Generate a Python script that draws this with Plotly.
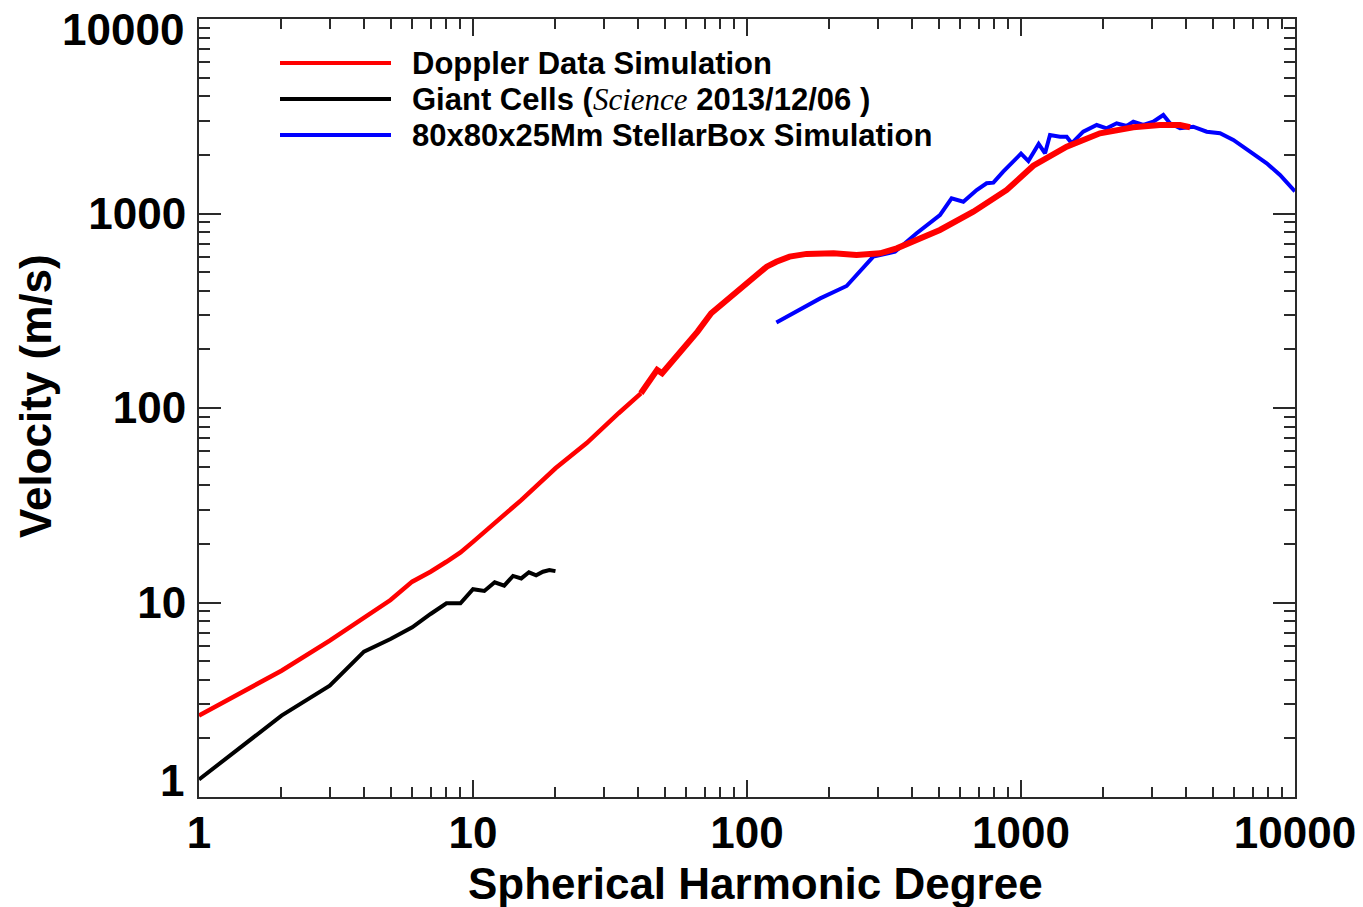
import plotly.graph_objects as go

# Doppler data simulation spectrum (spherical harmonic degree l, velocity m/s)
red_l = [1, 2, 3, 4, 5, 6, 7, 8, 9, 10, 15, 20, 26, 34, 41, 47, 49, 54, 59, 66,
         74, 87, 100, 118, 128, 143, 165, 207, 251, 306, 352, 416, 506, 670, 887,
         1109, 1468, 1942, 2570, 3215, 3804, 4140]
red_v = [2.62, 4.46, 6.36, 8.29, 10.3, 12.8, 14.4, 16.2, 18.1, 20.5, 33.6, 49, 66,
         94, 119, 157, 151, 177, 207, 247, 307, 373, 446, 533, 565, 600, 620, 624,
         612, 624, 662, 731, 823, 1021, 1321, 1760, 2206, 2584, 2775, 2851, 2851,
         2775]

# Giant cells measurement
black_l = list(range(1, 21))
black_v = [1.23, 2.62, 3.74, 5.59, 6.49, 7.46, 8.73, 9.9, 9.9, 11.7, 11.46, 12.7,
           12.2, 13.7, 13.3, 14.3, 13.8, 14.4, 14.7, 14.5]

# StellarBox simulation spectrum
blue_l = [128, 185, 231, 289, 347, 416, 506, 558, 616, 689, 749, 793, 861, 1000,
          1064, 1160, 1224, 1276, 1388, 1468, 1531, 1687, 1889, 2054, 2234, 2430,
          2570, 2795, 3039, 3306, 3497, 3804, 4252, 4762, 5325, 5955, 6855, 7884,
          8815, 10000]
blue_v = [275, 366, 424, 600, 636, 791, 982, 1197, 1150, 1321, 1430, 1440, 1640,
          2030, 1860, 2280, 2039, 2533, 2483, 2483, 2296, 2634, 2851, 2742, 2910,
          2818, 2966, 2851, 2966, 3208, 2910, 2742, 2795, 2634, 2584, 2388, 2079,
          1812, 1577, 1300]

legend_names = [
    "Doppler Data Simulation",
    "Giant Cells (<span style=\"font-family:'Liberation Serif';font-weight:normal\"><i>Science</i></span> 2013/12/06 )",
    "80x80x25Mm StellarBox Simulation",
]
legend_colors = ["#ff0000", "#000000", "#0000ff"]

x_major = [1, 10, 100, 1000, 10000]
y_major = [1, 10, 100, 1000, 10000]
x_minor = [m * 10 ** d for d in range(4) for m in range(2, 10)]
y_minor = [m * 10 ** d for d in range(4) for m in range(2, 10)]

FONT = "Liberation Sans, Arial, Helvetica, sans-serif"
AXIS_COLOR = "#2a2a2a"

# the low-degree part of the Doppler curve is smooth, the rest is noisy (drawn thicker)
SPLIT = red_l.index(41)

fig = go.Figure()
fig.add_trace(go.Scatter(x=blue_l, y=blue_v, mode="lines",
                         line=dict(color=legend_colors[2], width=4), showlegend=False))
fig.add_trace(go.Scatter(x=black_l, y=black_v, mode="lines",
                         line=dict(color=legend_colors[1], width=4), showlegend=False))
fig.add_trace(go.Scatter(x=red_l[:SPLIT + 1], y=red_v[:SPLIT + 1], mode="lines",
                         line=dict(color=legend_colors[0], width=4.5), showlegend=False))
fig.add_trace(go.Scatter(x=red_l[SPLIT:], y=red_v[SPLIT:], mode="lines",
                         line=dict(color=legend_colors[0], width=6), showlegend=False))

# hand-drawn legend: long line samples with bold labels
L, R, T, B = 199, 68, 19, 110
W, H = 1363, 907
pw, ph = W - L - R, H - T - B


def px_x(p):
    return (p - L) / pw


def px_y(p):
    return (H - B - p) / ph


shapes = []
annotations = []
for i, (name, col) in enumerate(zip(legend_names, legend_colors)):
    yc = 63 + 36 * i
    shapes.append(dict(type="line", xref="paper", yref="paper",
                       x0=px_x(280), x1=px_x(391), y0=px_y(yc), y1=px_y(yc),
                       line=dict(color=col, width=4)))
    annotations.append(dict(xref="paper", yref="paper", x=px_x(410), y=px_y(yc),
                            xanchor="left", yanchor="middle", showarrow=False,
                            text=name,
                            font=dict(family=FONT, size=31, color="black", weight="bold")))

tickfont = dict(family=FONT, size=44, color="black", weight="bold")

# end labels of the velocity axis sit just inside the frame
for val, yc in (("10000", 30), ("1", 780)):
    annotations.append(dict(xref="paper", yref="paper", x=px_x(186), y=px_y(yc),
                            xanchor="right", yanchor="middle", showarrow=False,
                            text=val, font=tickfont))

# axis titles
annotations.append(dict(xref="paper", yref="paper", x=px_x(755), y=px_y(883),
                        xanchor="center", yanchor="middle", showarrow=False,
                        text="Spherical Harmonic Degree",
                        font=dict(family=FONT, size=44, color="black", weight="bold")))
annotations.append(dict(xref="paper", yref="paper", x=px_x(36), y=px_y(396),
                        xanchor="center", yanchor="middle", showarrow=False,
                        textangle=-90, text="Velocity (m/s)",
                        font=dict(family=FONT, size=44, color="black", weight="bold")))

fig.update_layout(
    width=W, height=H,
    margin=dict(l=L, r=R, t=T, b=B, autoexpand=False),
    paper_bgcolor="white", plot_bgcolor="white",
    shapes=shapes, annotations=annotations,
    showlegend=False,
    xaxis=dict(type="log", range=[0, 4], showgrid=False, zeroline=False,
               automargin=False,
               showline=True, linecolor=AXIS_COLOR, linewidth=2, mirror="ticks",
               ticks="inside", ticklen=17, tickwidth=2, tickcolor=AXIS_COLOR,
               tickmode="array", tickvals=x_major,
               ticktext=[str(v) for v in x_major], tickfont=tickfont,
               ticklabelstandoff=-4,
               minor=dict(tickmode="array", tickvals=x_minor, ticks="inside",
                          ticklen=10, tickwidth=2, tickcolor=AXIS_COLOR, showgrid=False)),
    yaxis=dict(type="log", range=[0, 4], showgrid=False, zeroline=False,
               automargin=False,
               showline=True, linecolor=AXIS_COLOR, linewidth=2, mirror="ticks",
               ticks="inside", ticklen=22, tickwidth=2, tickcolor=AXIS_COLOR,
               tickmode="array", tickvals=y_major,
               ticktext=["", "10", "100", "1000", ""], tickfont=tickfont,
               ticklabelstandoff=2,
               minor=dict(tickmode="array", tickvals=y_minor, ticks="inside",
                          ticklen=11, tickwidth=2, tickcolor=AXIS_COLOR, showgrid=False)),
)

fig.write_html("out.html")
